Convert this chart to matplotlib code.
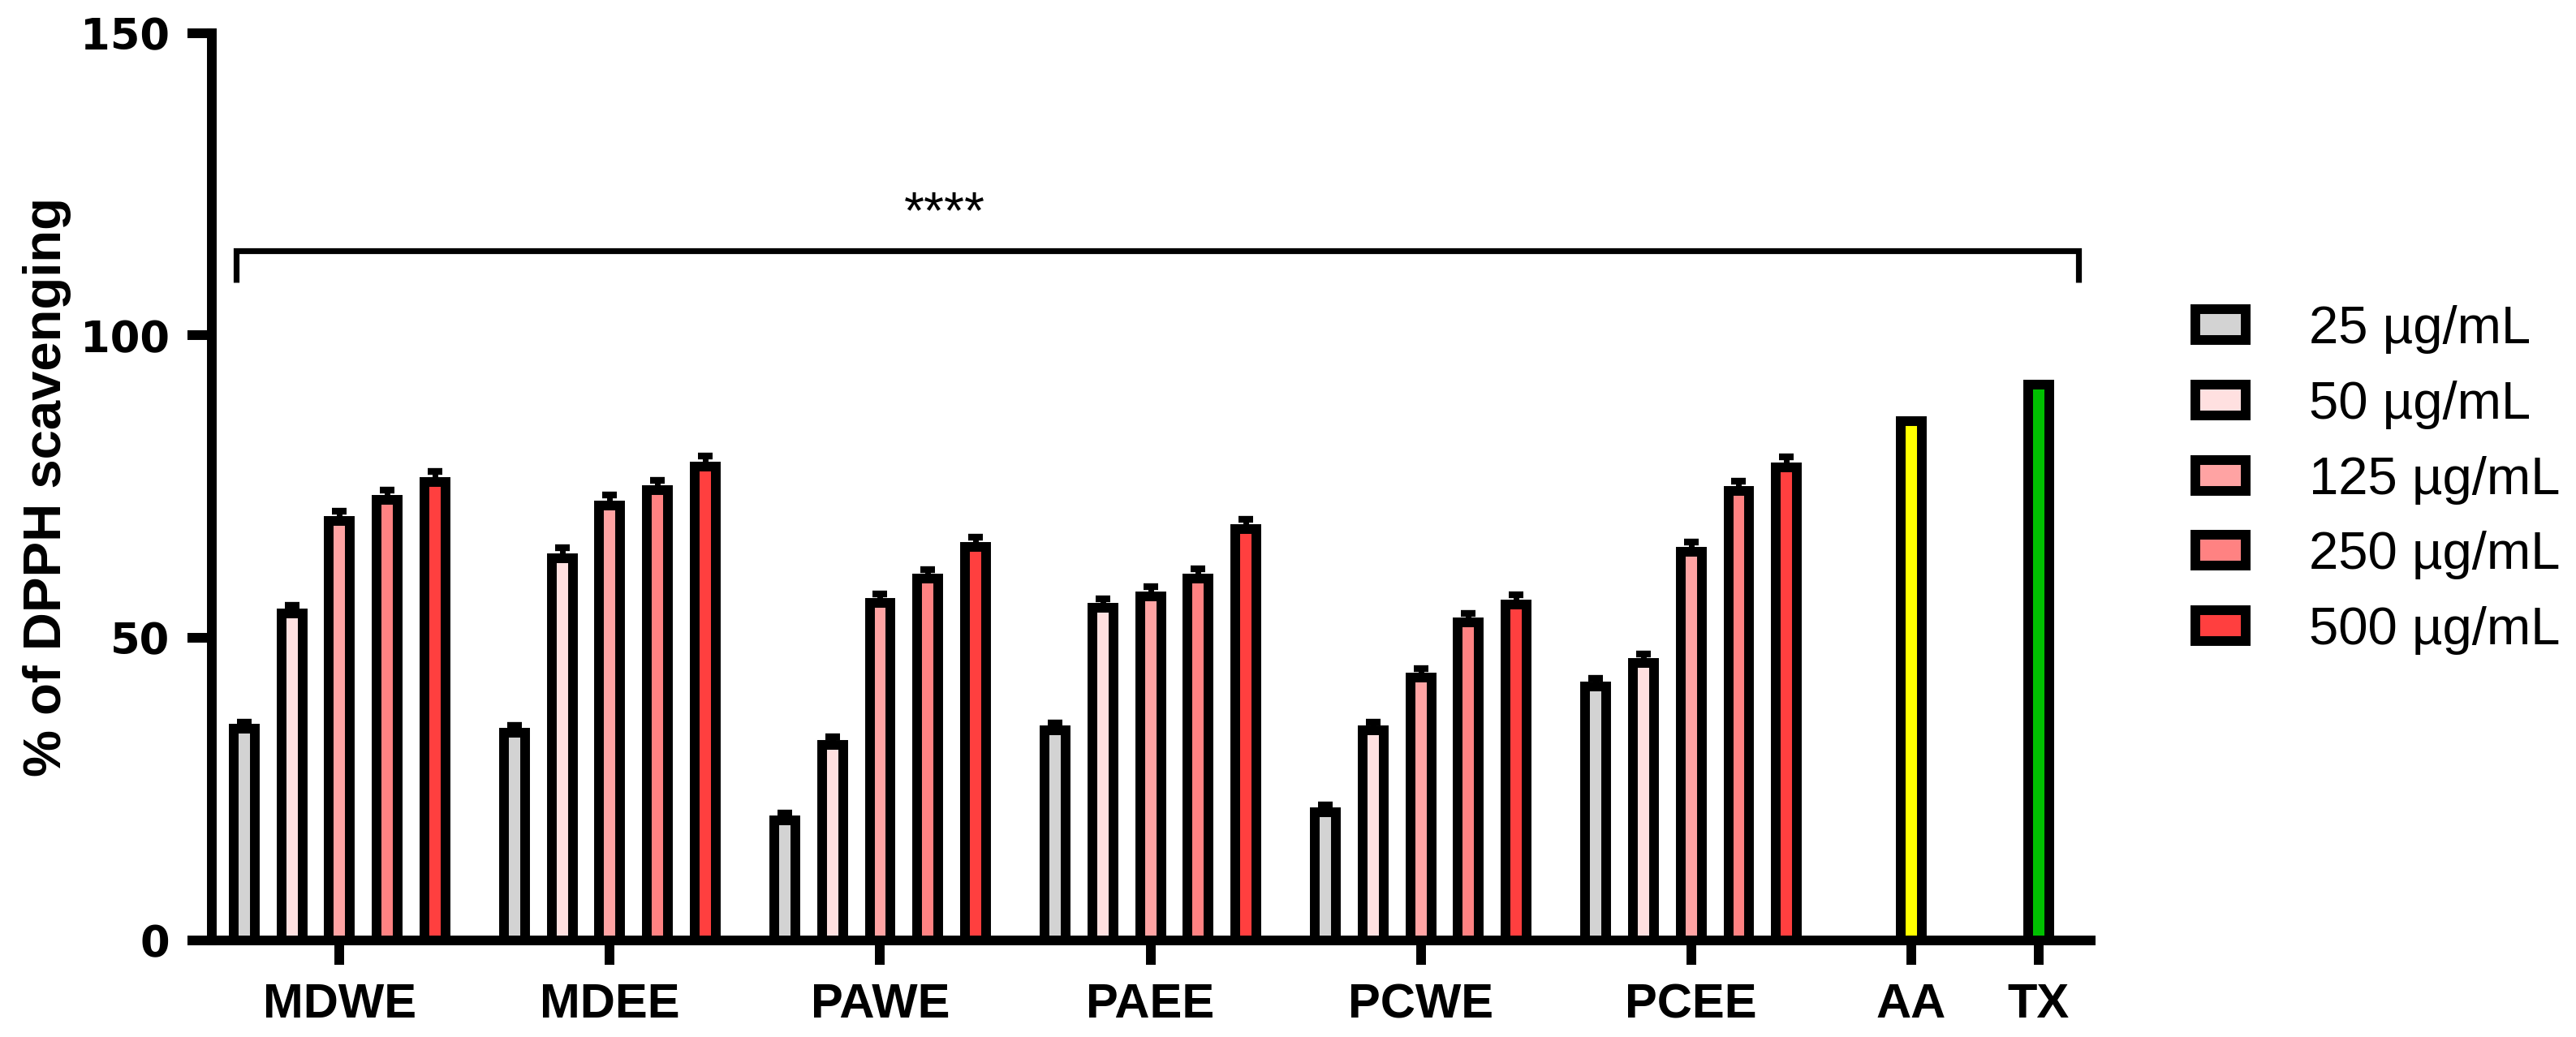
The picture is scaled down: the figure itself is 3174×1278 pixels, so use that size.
import numpy as np
import matplotlib.pyplot as plt

plt.rcParams['font.family'] = ['Liberation Sans', 'DejaVu Sans']

groups = ['MDWE', 'MDEE', 'PAWE', 'PAEE', 'PCWE', 'PCEE']
conc_labels = ['25 µg/mL', '50 µg/mL', '125 µg/mL', '250 µg/mL', '500 µg/mL']
conc_colors = ['#D3D3D3', '#FFE0E0', '#FFA3A3', '#FF8282', '#FF3F3F']

# % DPPH scavenging, one list per concentration (MDWE..PCEE)
c25 = [35.0, 34.3, 19.8, 34.7, 21.2, 42.0]
c50 = [54.0, 63.2, 32.3, 55.0, 34.7, 45.9]
c125 = [69.4, 71.9, 55.8, 56.9, 43.5, 64.3]
c250 = [72.8, 74.4, 59.8, 59.8, 52.6, 74.3]
c500 = [75.8, 78.3, 65.0, 68.0, 55.5, 78.2]
values = [c25, c50, c125, c250, c500]

# SD (upper error bars)
e25 = [1.1, 1.3, 1.2, 1.3, 1.2, 1.3]
e50 = [1.4, 1.7, 1.3, 1.5, 1.4, 1.5]
e125 = [1.6, 1.7, 1.5, 1.6, 1.4, 1.6]
e250 = [1.6, 1.7, 1.5, 1.6, 1.5, 1.6]
e500 = [1.7, 1.8, 1.6, 1.6, 1.6, 1.7]
errors = [e25, e50, e125, e250, e500]

std_names = ['AA', 'TX']
std_values = [85.8, 91.8]
std_colors = ['#FFFF00', '#00C000']

sig_text = '****'
sig_y = 114

# layout in units of one bar slot
group_step = 5.67
group_x = np.arange(len(groups)) * group_step
std_x = np.array([32.97, 35.64])
bw = 0.44
lw = 4.3

fig = plt.figure(figsize=(15.87, 6.39), dpi=200)
ax = fig.add_axes([0.0822, 0.0931, 0.7294, 0.8752])

for i in range(5):
    xs = group_x + (i - 2)
    ax.errorbar(xs, values[i], yerr=[np.zeros(len(groups)), errors[i]], fmt='none',
                ecolor='black', elinewidth=2.5, capsize=3.3, capthick=3.0, zorder=1)
    ax.bar(xs, values[i], width=bw, color=conc_colors[i], edgecolor='black',
           linewidth=lw, label=conc_labels[i], zorder=2)

for j in range(len(std_names)):
    ax.bar(std_x[j], std_values[j], width=bw, color=std_colors[j], edgecolor='black',
           linewidth=lw, zorder=2)

# significance bracket
bx0, bx1 = -2.17, 36.47
ax.plot([bx0, bx0, bx1, bx1], [108.8, sig_y, sig_y, 108.8], color='black',
        linewidth=2.6, solid_capstyle='butt', solid_joinstyle='miter', clip_on=False)
ax.text(12.7, 120, sig_text, ha='center', va='center', fontsize=23)

ax.set_xlim(-2.68, 36.73)
ax.set_ylim(0, 150)
ax.set_yticks([0, 50, 100, 150])
ax.set_yticklabels(['0', '50', '100', '150'], family='DejaVu Sans', fontweight='bold', fontsize=19)
ax.set_xticks(list(group_x) + list(std_x))
ax.set_xticklabels(groups + std_names, fontweight='bold', fontsize=21.5)
ax.tick_params(axis='both', width=lw, length=10.8, color='black')
ax.tick_params(axis='x', pad=8)
ax.tick_params(axis='y', pad=8)

for s in ['top', 'right']:
    ax.spines[s].set_visible(False)
for s in ['left', 'bottom']:
    ax.spines[s].set_linewidth(lw)

ax.set_ylabel('% of DPPH scavenging', fontweight='bold', fontsize=23.5, labelpad=4)

ax.legend(loc='upper left', bbox_to_anchor=(0.842, 0.731), bbox_transform=fig.transFigure,
          frameon=False, fontsize=23.5, handlelength=0.95, handleheight=0.52,
          handletextpad=1.2, labelspacing=0.5, borderpad=0)

fig.savefig('out.png', dpi=200)
